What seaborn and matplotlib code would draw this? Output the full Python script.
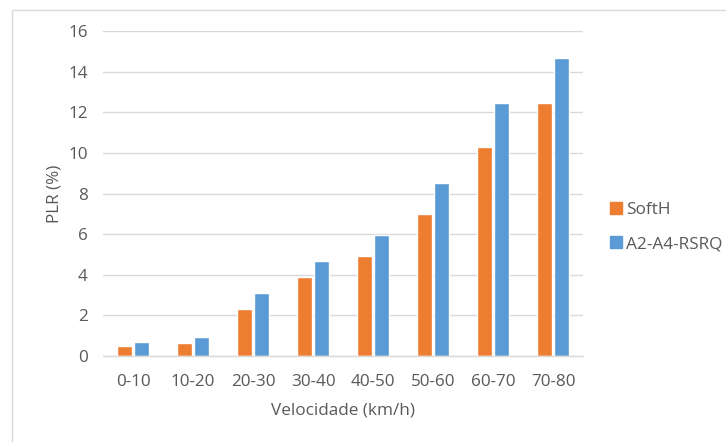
import matplotlib
matplotlib.use("Agg")
import matplotlib.pyplot as plt
import seaborn as sns
import pandas as pd
from matplotlib.patches import Rectangle
from matplotlib.lines import Line2D

categories = ["0-10", "10-20", "20-30", "30-40", "40-50", "50-60", "60-70", "70-80"]
softh = [0.48, 0.64, 2.29, 3.87, 4.90, 6.97, 10.28, 12.45]
a2a4 = [0.71, 0.94, 3.11, 4.67, 5.95, 8.50, 12.45, 14.69]
series_names = ["SoftH", "A2-A4-RSRQ"]
colors = ["#ED7D31", "#5B9BD5"]
yticks = [0, 2, 4, 6, 8, 10, 12, 14, 16]

df = pd.DataFrame({
    "cat": categories * 2,
    "val": softh + a2a4,
    "series": [series_names[0]] * len(categories) + [series_names[1]] * len(categories),
})

sns.set_theme(style="white")
plt.rcParams["font.family"] = ["Open Sans", "DejaVu Sans"]
text_color = "#595959"
fs = 12.3

fig = plt.figure(figsize=(7.26, 4.42), dpi=100)
fig.patch.set_facecolor("white")
fig.patches.append(Rectangle((12 / 726, -0.01), 1.0, 1 - 10 / 442 + 0.01,
                             transform=fig.transFigure, fill=False,
                             edgecolor="#D9D9D9", linewidth=1))

ax = fig.add_axes([103 / 726, 1 - 356 / 442, 480 / 726, 325 / 442])
sns.barplot(data=df, x="cat", y="val", hue="series", palette=colors,
            width=0.55, gap=0.12, ax=ax, legend=False, saturation=1)

ax.set_xlim(-0.5, 7.5)
ax.set_ylim(0, 16)
ax.set_yticks(yticks)
ax.yaxis.grid(True, color="#D9D9D9", linewidth=1)
ax.set_axisbelow(True)
for s in ["top", "right", "left"]:
    ax.spines[s].set_visible(False)
ax.spines["bottom"].set_color("#D9D9D9")
ax.spines["bottom"].set_linewidth(1)
ax.tick_params(axis="both", length=0, labelsize=fs, colors=text_color)
ax.tick_params(axis="y", pad=11)
ax.tick_params(axis="x", pad=13)
ax.set_xlabel("Velocidade (km/h)", fontsize=fs, color=text_color, labelpad=9)
ax.set_ylabel("PLR (%)", fontsize=fs, color=text_color, labelpad=4)

handles = [Line2D([0], [0], marker="s", linestyle="none", markersize=8,
                  markerfacecolor=c, markeredgecolor=c) for c in colors]
fig.legend(handles, series_names, loc="center left",
           bbox_to_anchor=(592 / 726, 1 - 227 / 442), frameon=False,
           fontsize=12.4, labelcolor=text_color, handletextpad=0.05,
           labelspacing=1.05, handlelength=1.0)

fig.savefig("out.png", dpi=100)
